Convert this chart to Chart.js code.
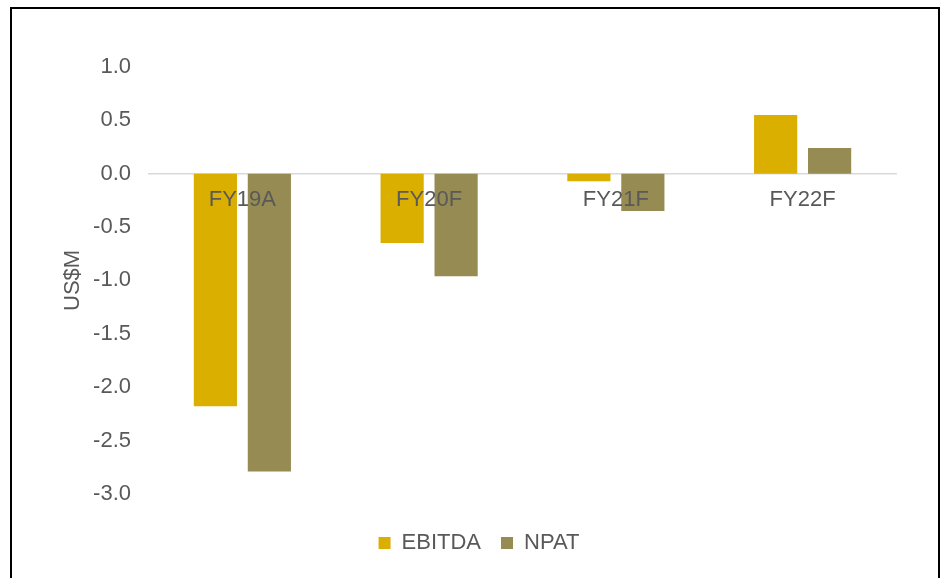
<!DOCTYPE html>
<html>
<head>
<meta charset="utf-8">
<script src="https://cdn.jsdelivr.net/npm/chart.js@4"></script>
<style>
  body { margin: 0; background: #fff; }
  #wrap { position: relative; width: 944px; height: 578px; overflow: hidden; }
  #frame { position: absolute; left: 10px; top: 7px; width: 930px; height: 600px;
           box-sizing: border-box; border: 2px solid #000; pointer-events: none; }
  canvas { position: absolute; left: 0; top: 0; }
</style>
</head>
<body>
<div id="wrap">
  <canvas id="finChart" width="944" height="578"></canvas>
  <div id="frame"></div>
</div>
<script>
// ---- data ----
const years = ["FY19A", "FY20F", "FY21F", "FY22F"];
const ebitda = [-2.18, -0.65, -0.07, 0.55];
const npat = [-2.79, -0.96, -0.35, 0.24];
const yTicks = [1.0, 0.5, 0.0, -0.5, -1.0, -1.5, -2.0, -2.5, -3.0];

const textGrey = "#595959";
const font = { family: "'Liberation Sans', Arial, sans-serif", size: 22 };

const ctx = document.querySelector("#finChart").getContext("2d");
const chart = new Chart(ctx, {
  type: "bar",
  data: {
    labels: years,
    datasets: [
      { label: "EBITDA", data: ebitda, backgroundColor: "#DBAF00" },
      { label: "NPAT", data: npat, backgroundColor: "#968B53" },
    ],
  },
  options: {
    responsive: false,
    animation: false,
    layout: { padding: { left: 62, right: 48, top: 67, bottom: 14 } },
    datasets: {
      bar: { categoryPercentage: 0.578, barPercentage: 0.8 },
    },
    scales: {
      x: {
        type: "category",
        position: { y: 0 },
        grid: { display: false, drawTicks: false },
        border: { display: true, color: "#d9d9d9", width: 1.5 },
        // z > 0 so the category names sit on top of the bars
        ticks: { z: 1, color: textGrey, font: font, padding: 13, maxRotation: 0 },
      },
      y: {
        min: -3,
        max: 1,
        grid: { display: false, drawTicks: false },
        border: { display: false },
        afterBuildTicks: (scale) => {
          scale.ticks = yTicks.map((v) => ({ value: v }));
        },
        afterFit: (scale) => {
          scale.width = 87;
        },
        ticks: {
          color: textGrey,
          font: font,
          padding: 18,
          callback: (v) => Number(v).toFixed(1),
        },
        title: {
          display: true,
          text: "US$M",
          color: textGrey,
          font: font,
          padding: { top: -2, bottom: 0 },
        },
      },
    },
    plugins: {
      tooltip: { enabled: false },
      legend: {
        position: "bottom",
        title: { display: true, text: "", font: { size: 1 }, padding: { top: 17, bottom: 0 } },
        labels: {
          color: textGrey,
          font: font,
          boxWidth: 12,
          boxHeight: 12,
          padding: 20,
        },
      },
    },
  },
});
</script>
</body>
</html>
